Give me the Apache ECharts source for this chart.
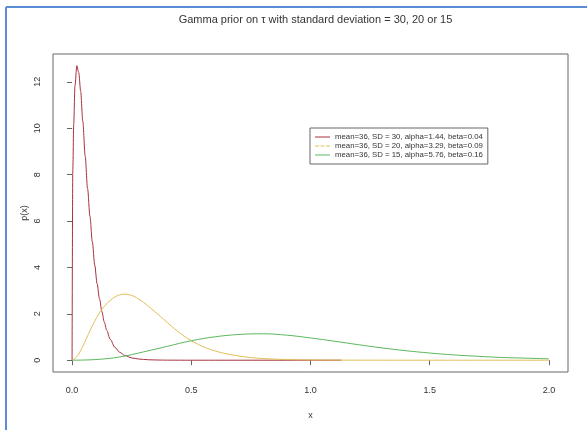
<!DOCTYPE html>
<html>
<head>
<meta charset="utf-8">
<script src="https://cdn.jsdelivr.net/npm/echarts@6/dist/echarts.min.js"></script>
<style>
html,body{margin:0;padding:0;background:#fff;}
#chart{width:587px;height:430px;}
</style>
</head>
<body>
<div id="chart"></div>
<script>
// ---- data ----
const xTicks = [0, 0.5, 1, 1.5, 2];
const yTicks = [0, 2, 4, 6, 8, 10, 12];

const legendNames = [
  'mean=36, SD = 30, alpha=1.44, beta=0.04',
  'mean=36, SD = 20, alpha=3.29, beta=0.09',
  'mean=36, SD = 15, alpha=5.76, beta=0.16'
];

const redX = [0, 0.003, 0.007, 0.012, 0.02, 0.028, 0.036, 0.045, 0.055, 0.065, 0.075, 0.085, 0.095, 0.105, 0.115, 0.125, 0.135, 0.145, 0.16, 0.18, 0.2, 0.22, 0.25, 0.28, 0.32, 0.36, 0.4, 0.5, 0.6, 0.8, 1.0, 1.13];
const redY = [0, 8.2, 10.2, 11.8, 12.7, 12.4, 11.6, 10.3, 8.8, 7.4, 6.2, 5.1, 4.1, 3.3, 2.65, 2.1, 1.65, 1.3, 0.9, 0.55, 0.34, 0.21, 0.1, 0.05, 0.02, 0.008, 0.003, 0, 0, 0, 0, 0];

const yelX = [0, 0.02, 0.04, 0.06, 0.08, 0.1, 0.12, 0.14, 0.16, 0.18, 0.2, 0.22, 0.24, 0.26, 0.28, 0.3, 0.33, 0.36, 0.4, 0.44, 0.48, 0.52, 0.56, 0.6, 0.65, 0.7, 0.75, 0.8, 0.9, 1.0, 1.1, 1.25, 1.5, 2.0];
const yelY = [0, 0.15, 0.5, 0.93, 1.38, 1.78, 2.12, 2.38, 2.58, 2.73, 2.82, 2.85, 2.82, 2.75, 2.63, 2.49, 2.24, 1.98, 1.62, 1.27, 0.97, 0.73, 0.54, 0.4, 0.27, 0.18, 0.115, 0.072, 0.03, 0.012, 0.005, 0.002, 0, 0];

const grnX = [0, 0.1, 0.2, 0.3, 0.4, 0.5, 0.6, 0.7, 0.8, 0.9, 1.0, 1.1, 1.2, 1.3, 1.4, 1.5, 1.6, 1.7, 1.8, 1.9, 2.0];
const grnY = [0, 0.03, 0.14, 0.36, 0.6, 0.84, 1.01, 1.11, 1.14, 1.08, 0.96, 0.82, 0.67, 0.53, 0.41, 0.31, 0.23, 0.17, 0.12, 0.09, 0.06];

const colors = ['#a8323f', '#e2bf55', '#5cb85c'];

function pairs(xs, ys) { return xs.map((x, i) => [x, ys[i]]); }

const font = 'Liberation Sans, Arial, sans-serif';
const chart = echarts.init(document.getElementById('chart'), null, {renderer: 'canvas'});

const solidIcon = 'path://M0,0h15v1h-15z';
const dashIcon = 'path://M0,0h4v1h-4zM5.5,0h4v1h-4zM11,0h4v1h-4z';

chart.setOption({
  animation: false,
  backgroundColor: '#fff',
  title: {
    text: 'Gamma prior on \u03c4 with standard deviation = 30, 20 or 15',
    left: 310.5, top: 9, textAlign: 'center',
    textStyle: {fontFamily: font, fontSize: 11, fontWeight: 'normal', color: '#333'}
  },
  graphic: [
    {type: 'line', shape: {x1: 6, y1: 7, x2: 587, y2: 7}, style: {stroke: '#5b8dd6', lineWidth: 2}},
    {type: 'line', shape: {x1: 6, y1: 7, x2: 6, y2: 430}, style: {stroke: '#5b8dd6', lineWidth: 2}}
  ],
  legend: {
    orient: 'vertical', left: 310, top: 128,
    padding: [5, 5, 5, 5],
    itemGap: 1, itemWidth: 15, itemHeight: 1,
    borderColor: '#666', borderWidth: 1,
    textStyle: {fontFamily: font, fontSize: 7.8, color: '#333'},
    data: [
      {name: legendNames[0], icon: solidIcon},
      {name: legendNames[1], icon: dashIcon},
      {name: legendNames[2], icon: solidIcon}
    ]
  },
  grid: {left: 53, top: 54, right: 19, bottom: 58, show: true, borderColor: '#666', borderWidth: 1, backgroundColor: 'transparent'},
  xAxis: {
    type: 'value', min: -0.08, max: 2.08,
    name: 'x', nameLocation: 'middle', nameGap: 39, nameMoveOverlap: false,
    nameTextStyle: {fontFamily: font, fontSize: 9, color: '#333'},
    axisLine: {show: false},
    splitLine: {show: false},
    axisTick: {show: true, length: 5, customValues: xTicks, lineStyle: {color: '#666'}},
    axisLabel: {customValues: xTicks, margin: 14, fontFamily: font, fontSize: 9, color: '#333',
      formatter: v => v.toFixed(1)}
  },
  yAxis: {
    type: 'value', min: -0.508, max: 13.2,
    name: 'p(x)', nameLocation: 'middle', nameGap: 24, nameRotate: 90, nameMoveOverlap: false,
    nameTextStyle: {fontFamily: font, fontSize: 9, color: '#333'},
    axisLine: {show: false},
    splitLine: {show: false},
    axisTick: {show: true, length: 5, customValues: yTicks, lineStyle: {color: '#666'}},
    axisLabel: {customValues: yTicks, margin: 11, rotate: 90, fontFamily: font, fontSize: 9, color: '#333'}
  },
  series: [
    {name: legendNames[0], type: 'line', data: pairs(redX, redY), symbol: 'none', smooth: 0.3, smoothMonotone: 'x',
      lineStyle: {color: colors[0], width: 1}, itemStyle: {color: colors[0]}},
    {name: legendNames[1], type: 'line', data: pairs(yelX, yelY), symbol: 'none', smooth: 0.4,
      lineStyle: {color: colors[1], width: 1}, itemStyle: {color: colors[1]}},
    {name: legendNames[2], type: 'line', data: pairs(grnX, grnY), symbol: 'none', smooth: 0.4,
      lineStyle: {color: colors[2], width: 1}, itemStyle: {color: colors[2]}}
  ]
});
</script>
</body>
</html>
